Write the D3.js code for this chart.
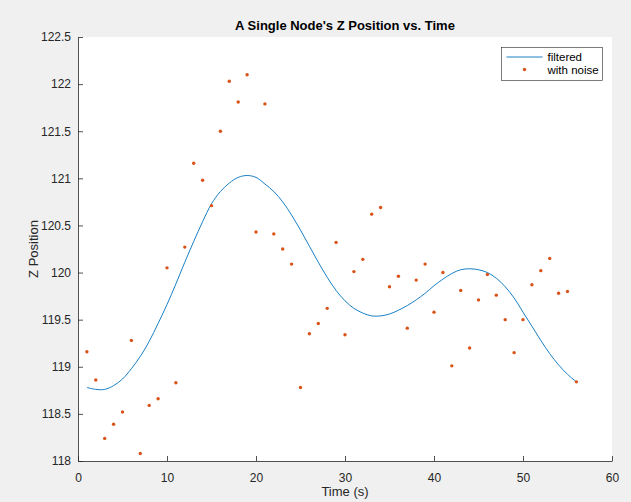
<!DOCTYPE html>
<html>
<head>
<meta charset="utf-8">
<script src="https://cdn.jsdelivr.net/npm/d3@7"></script>
<style>
  body { margin: 0; background: #f0f0f0; }
  svg { display: block; font-family: "Liberation Sans", Arial, sans-serif; }
</style>
</head>
<body>
<div id="chart"></div>
<script>
// time samples (s)
const times = d3.range(1, 57);

// noisy measurements, one per second
const noisy = [
  119.16, 118.86, 118.24, 118.39, 118.52, 119.28, 118.08, 118.59, 118.66, 120.05,
  118.83, 120.27, 121.16, 120.98, 120.71, 121.50, 122.03, 121.81, 122.10, 120.43,
  121.79, 120.41, 120.25, 120.09, 118.78, 119.35, 119.46, 119.62, 120.32, 119.34,
  120.01, 120.14, 120.62, 120.69, 119.85, 119.96, 119.41, 119.92, 120.09, 119.58,
  120.00, 119.01, 119.81, 119.20, 119.71, 119.98, 119.76, 119.50, 119.15, 119.50,
  119.87, 120.02, 120.15, 119.78, 119.80, 118.84
];

// filtered estimate
const filtered = [
  118.78, 118.76, 118.76, 118.80, 118.87, 118.98, 119.11, 119.27, 119.46, 119.66,
  119.88, 120.11, 120.33, 120.54, 120.73, 120.86, 120.95, 121.01, 121.03, 121.01,
  120.94, 120.86, 120.75, 120.61, 120.45, 120.28, 120.11, 119.95, 119.81, 119.70,
  119.62, 119.57, 119.54, 119.54, 119.56, 119.60, 119.65, 119.71, 119.78, 119.86,
  119.93, 119.99, 120.03, 120.04, 120.03, 120.00, 119.94, 119.85, 119.73, 119.58,
  119.43, 119.28, 119.14, 119.02, 118.92, 118.84
];

const xTicks = [0, 10, 20, 30, 40, 50, 60];
const yTicks = [118, 118.5, 119, 119.5, 120, 120.5, 121, 121.5, 122, 122.5];

const W = 631, H = 502;
const margin = { top: 37, right: 19, bottom: 41, left: 78 };
const innerW = W - margin.left - margin.right,
      innerH = H - margin.top - margin.bottom;

const axisColor = "#262626";
const lineColor = "#0072bd";
const dotColor = "#d95319";

const svg = d3.select("#chart").append("svg")
  .attr("width", W)
  .attr("height", H);

svg.append("rect")
  .attr("width", W).attr("height", H)
  .attr("fill", "#f0f0f0");

const g = svg.append("g")
  .attr("transform", "translate(" + margin.left + "," + margin.top + ")");

g.append("rect")
  .attr("width", innerW).attr("height", innerH)
  .attr("fill", "#ffffff");

const x = d3.scaleLinear().domain([0, 60]).range([0, innerW]);
const y = d3.scaleLinear().domain([118, 122.5]).range([innerH, 0]);

//Axes, ticks pointing inward like MATLAB
const xAxis = g.append("g")
  .attr("transform", "translate(0," + innerH + ")")
  .call(d3.axisBottom(x).tickValues(xTicks).tickSize(-5).tickPadding(12).tickSizeOuter(0));

const yAxis = g.append("g")
  .call(d3.axisLeft(y).tickValues(yTicks).tickFormat(d => d).tickSize(-5).tickPadding(7).tickSizeOuter(0));

[xAxis, yAxis].forEach(ax => {
  ax.select(".domain").attr("stroke", axisColor).attr("stroke-width", 0.8);
  ax.selectAll(".tick line").attr("stroke", axisColor).attr("stroke-width", 0.8);
  ax.selectAll(".tick text")
    .attr("fill", axisColor)
    .style("font-size", "12px")
    .style("font-family", "'Liberation Sans', Arial, sans-serif");
});

//Filtered curve
const line = d3.line()
  .x((d, i) => x(times[i]))
  .y(d => y(d))
  .curve(d3.curveCatmullRom);

g.append("path")
  .datum(filtered)
  .attr("d", line)
  .attr("fill", "none")
  .attr("stroke", lineColor)
  .attr("stroke-width", 0.9);

//Noisy points
g.selectAll(".dot")
  .data(noisy)
  .enter().append("circle")
  .attr("class", "dot")
  .attr("cx", (d, i) => x(times[i]))
  .attr("cy", d => y(d))
  .attr("r", 1.7)
  .attr("fill", dotColor);

//Title and labels
svg.append("text")
  .attr("x", margin.left + innerW / 2)
  .attr("y", 30)
  .attr("text-anchor", "middle")
  .style("font-size", "13px")
  .style("font-weight", "bold")
  .attr("fill", "#000")
  .text("A Single Node's Z Position vs. Time");

svg.append("text")
  .attr("x", margin.left + innerW / 2)
  .attr("y", 496)
  .attr("text-anchor", "middle")
  .style("font-size", "13px")
  .attr("fill", axisColor)
  .text("Time (s)");

svg.append("text")
  .attr("transform", "translate(38," + (margin.top + innerH / 2) + ") rotate(-90)")
  .attr("text-anchor", "middle")
  .style("font-size", "13px")
  .attr("fill", axisColor)
  .text("Z Position");

//Legend
const legend = svg.append("g").attr("transform", "translate(501.5,47.5)");
legend.append("rect")
  .attr("width", 101).attr("height", 33)
  .attr("fill", "#fff")
  .attr("stroke", "#262626")
  .attr("stroke-width", 0.6);
legend.append("line")
  .attr("x1", 5).attr("x2", 41)
  .attr("y1", 9.5).attr("y2", 9.5)
  .attr("stroke", lineColor)
  .attr("stroke-width", 0.9);
legend.append("circle")
  .attr("cx", 23).attr("cy", 22)
  .attr("r", 1.7)
  .attr("fill", dotColor);
legend.selectAll(".ltext")
  .data(["filtered", "with noise"])
  .enter().append("text")
  .attr("class", "ltext")
  .attr("x", 46)
  .attr("y", (d, i) => 13.5 + i * 12.5)
  .style("font-size", "11.5px")
  .attr("fill", "#000")
  .text(d => d);
</script>
</body>
</html>
